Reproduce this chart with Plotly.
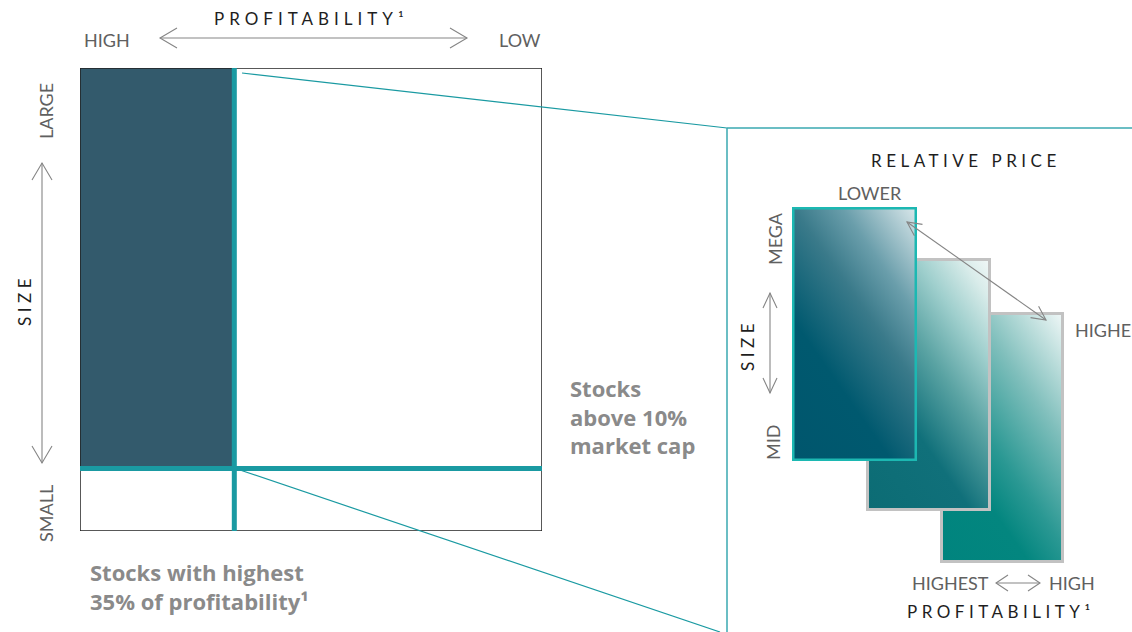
import base64
import math
import plotly.graph_objects as go

W, H = 1132, 632

# ---------------- data ----------------
profit_axis_labels = ["HIGH", "LOW"]
size_axis_labels = ["LARGE", "SMALL"]
profit_cut_pct = 33.4      # profitability screen (share of universe width)
size_cut_pct = 13.5        # small-cap slice below the market-cap cut
note_profit = ["Stocks with highest", "35% of profitability¹"]
note_size = ["Stocks", "above 10%", "market cap"]
price_labels = ["LOWER", "HIGHER"]
tier_labels = ["MEGA", "MID"]
profit_tier_labels = ["HIGHEST", "HIGH"]
title_profit = "PROFITABILITY¹"
title_size = "SIZE"
title_price = "RELATIVE PRICE"

# ---------------- styles ----------------
FONT = "Lato"
NOTE_FONT = "Open Sans"
GRAY = "#606060"
DARK = "#1e1e1e"
NOTE = "#8a8a8a"
TEAL = "#1a9aa2"
ARROW = "#858585"
grad_back = [(0, "#00847e"), (0.30, "#03867f"), (0.45, "#2a9893"), (0.70, "#80bfbc"),
             (0.85, "#b9dcda"), (1, "#f3f9f9")]
grad_mid = [(0, "#0c6c74"), (0.35, "#10707a"), (0.57, "#5aa3a3"), (0.75, "#9fcfcd"),
            (0.90, "#d9ecea"), (1, "#f3f8f8")]
grad_front = [(0, "#00566d"), (0.33, "#00596f"), (0.59, "#3a7a8a"), (0.75, "#6a9eab"),
              (1, "#dce9ec")]


def spaced(s, px=4.5):
    return f"<span style='letter-spacing:{px}px'>{s}</span>"


def grad_svg(w, h, stops, stroke, sw, ang=55):
    a = math.radians(ang)
    dx, dy = math.sin(a), math.cos(a)          # gradient direction (up-right)
    L = w * dx + h * dy
    st = "".join(f"<stop offset='{o}' stop-color='{c}'/>" for o, c in stops)
    svg = (
        f"<svg xmlns='http://www.w3.org/2000/svg' width='{w}' height='{h}' viewBox='0 0 {w} {h}' preserveAspectRatio='none'>"
        f"<defs><linearGradient id='g' gradientUnits='userSpaceOnUse' x1='0' y1='{h}' "
        f"x2='{dx * L:.2f}' y2='{h - dy * L:.2f}'>{st}</linearGradient></defs>"
        f"<rect x='{sw/2}' y='{sw/2}' width='{w - sw}' height='{h - sw}' fill='url(#g)' stroke='{stroke}' stroke-width='{sw}'/></svg>"
    )
    return "data:image/svg+xml;base64," + base64.b64encode(svg.encode()).decode()


fig = go.Figure()
fig.add_trace(go.Scatter(x=[], y=[], xaxis="x", yaxis="y", showlegend=False))
fig.add_trace(go.Scatter(x=[], y=[], xaxis="x2", yaxis="y2", showlegend=False))

shapes = []
# ---- left universe grid (data coords 0..100) ----
shapes.append(dict(type="rect", xref="x", yref="y", x0=0, x1=profit_cut_pct, y0=size_cut_pct, y1=100,
                   fillcolor="#335a6c", line=dict(width=0)))
shapes.append(dict(type="rect", xref="x", yref="y", x0=0, x1=100, y0=0, y1=100,
                   line=dict(color="#222", width=1.5)))
shapes.append(dict(type="line", xref="x", yref="y", x0=profit_cut_pct, x1=profit_cut_pct, y0=0, y1=100,
                   line=dict(color=TEAL, width=5)))
shapes.append(dict(type="line", xref="x", yref="y", x0=0, x1=100, y0=size_cut_pct, y1=size_cut_pct,
                   line=dict(color=TEAL, width=5)))

# ---- zoom connector lines and right frame (pixel overlay) ----
P = dict(xref="x2", yref="y2")
shapes.append(dict(type="line", x0=242, y0=73, x1=727, y1=128, line=dict(color=TEAL, width=1.2), **P))
shapes.append(dict(type="line", x0=237, y0=469, x1=720, y1=632, line=dict(color=TEAL, width=1.2), **P))
shapes.append(dict(type="line", x0=727, y0=128, x1=W, y1=128, line=dict(color="#3aa9b0", width=1.5), **P))
shapes.append(dict(type="line", x0=727, y0=128, x1=727, y1=H, line=dict(color="#3aa9b0", width=1.5), **P))


def arrow(x0, y0, x1, y1, back, half):
    """double-headed arrow with thin open chevrons"""
    shapes.append(dict(type="line", x0=x0, y0=y0, x1=x1, y1=y1,
                       line=dict(color=ARROW, width=1.1), **P))
    L = math.hypot(x1 - x0, y1 - y0)
    ux, uy = (x1 - x0) / L, (y1 - y0) / L
    nx, ny = -uy, ux
    for tx, ty, s in ((x1, y1, -1), (x0, y0, 1)):
        bx, by = tx + s * ux * back, ty + s * uy * back
        path = (f"M {bx + nx * half},{by + ny * half} L {tx},{ty} "
                f"L {bx - nx * half},{by - ny * half}")
        shapes.append(dict(type="path", path=path, line=dict(color=ARROW, width=1.1), **P))


arrow(160, 38, 467, 38, 17, 10)
arrow(42, 163, 42, 463, 17, 10)
arrow(770, 293, 770, 393, 15, 7)
arrow(907, 222, 1046, 320, 14, 7)
arrow(996, 583, 1040, 583, 12, 8)

fig.update_layout(shapes=shapes)

# ---- stacked gradient portfolios ----
boxes = [
    (940, 312, 124, 251, grad_back, "#c2c2c2", 3),
    (866, 258, 125, 253, grad_mid, "#c2c2c2", 3),
    (792, 207, 125, 254, grad_front, "#1cb8b2", 2.5),
]
images = []
for x, y, w, h, stops, stroke, sw in boxes:
    images.append(dict(source=grad_svg(w, h, stops, stroke, sw), xref="x2", yref="y2",
                       x=x, y=y, sizex=w, sizey=h, xanchor="left", yanchor="top",
                       sizing="stretch", layer="above"))
fig.update_layout(images=images)

ann = []


def txt(x, y, t, size, color, angle=0, xanchor="center", family=FONT, weight="normal"):
    ann.append(dict(x=x, y=y, text=t, showarrow=False, xref="x2", yref="y2", textangle=angle,
                    xanchor=xanchor, yanchor="middle",
                    font=dict(family=family, size=size, color=color, weight=weight)))


# left panel labels
txt(311, 18, spaced(title_profit, 5), 17, DARK)
txt(107, 40, profit_axis_labels[0], 18, GRAY)
txt(520, 40, profit_axis_labels[1], 18, GRAY)
txt(46, 111, size_axis_labels[0], 18, GRAY, angle=-90)
txt(24, 300, spaced(title_size), 17, DARK, angle=-90)
txt(46, 514, size_axis_labels[1], 18, GRAY, angle=-90)
for i, line in enumerate(note_profit):
    txt(88, 572 + 29 * i, line, 22, NOTE, xanchor="left", family=NOTE_FONT, weight="bold")
for i, line in enumerate(note_size):
    txt(568, 388 + 28.5 * i, line, 22, NOTE, xanchor="left", family=NOTE_FONT, weight="bold")

# right panel labels
txt(966, 160, spaced(title_price), 17, DARK)
txt(870, 193, price_labels[0], 18, GRAY)
txt(1073, 330, price_labels[1], 18, GRAY, xanchor="left")
txt(775, 239, tier_labels[0], 18, GRAY, angle=-90)
txt(747, 345, spaced(title_size), 17, DARK, angle=-90)
txt(773, 443, tier_labels[1], 18, GRAY, angle=-90)
txt(950, 583, profit_tier_labels[0], 18, GRAY)
txt(1072, 583, profit_tier_labels[1], 18, GRAY)
txt(1001, 611, spaced(title_profit), 17, DARK)

fig.update_layout(
    annotations=ann,
    width=W, height=H, margin=dict(l=0, r=0, t=0, b=0),
    paper_bgcolor="white", plot_bgcolor="rgba(0,0,0,0)", showlegend=False,
    xaxis=dict(domain=[80 / W, 542 / W], range=[0, 100], visible=False, fixedrange=True),
    yaxis=dict(domain=[1 - 531 / H, 1 - 68 / H], range=[0, 100], visible=False, fixedrange=True),
    xaxis2=dict(domain=[0, 1], range=[0, W], visible=False, anchor="y2", fixedrange=True),
    yaxis2=dict(domain=[0, 1], range=[H, 0], visible=False, anchor="x2", fixedrange=True),
)

fig.write_html("out.html", config={"displayModeBar": False},
               post_script="document.body.style.margin='0';")
